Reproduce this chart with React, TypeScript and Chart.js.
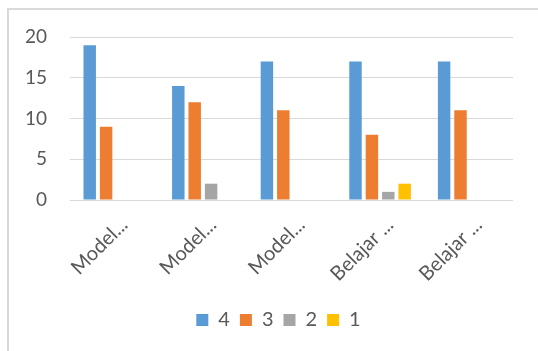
import React, { useEffect, useRef } from "react";
import { Chart, registerables } from "chart.js";

Chart.register(...registerables);

const categories = ["Model...", "Model...", "Model...", "Belajar ...", "Belajar ..."];
const seriesNames = ["4", "3", "2", "1"];
const series4 = [19, 14, 17, 17, 17];
const series3 = [9, 12, 11, 8, 11];
const series2 = [0, 2, 0, 1, 0];
const series1 = [0, 0, 0, 2, 0];
const colors = ["#5B9BD5", "#ED7D31", "#A5A5A5", "#FFC000"];
const yTicks = [0, 5, 10, 15, 20];

export default function App() {
  const ref = useRef<HTMLCanvasElement | null>(null);

  useEffect(() => {
    if (!ref.current) return;
    const values = [series4, series3, series2, series1];
    const family = "Lato, 'Open Sans', sans-serif";
    const shiftLegend = {
      id: "shiftLegend",
      afterUpdate(chart: any) {
        if (chart.legend) {
          chart.legend.left = 44;
          if (chart.legend.adjustHitBoxes) chart.legend.adjustHitBoxes();
        }
      },
    };
    const chart = new Chart(ref.current, {
      type: "bar",
      data: {
        labels: categories,
        datasets: seriesNames.map((name, i) => ({
          label: name,
          data: values[i],
          backgroundColor: colors[i],
          borderWidth: 0,
          categoryPercentage: 0.74,
          barPercentage: 0.76,
        })),
      },
      plugins: [shiftLegend],
      options: {
        animation: false,
        responsive: false,
        layout: { padding: { top: 37, right: 25, bottom: 11, left: 0 } },
        plugins: {
          tooltip: { enabled: false },
          legend: {
            position: "bottom",
            labels: {
              font: { family, size: 20 },
              color: "#595959",
              boxWidth: 12,
              boxHeight: 12,
              padding: 10,
            },
          },
        },
        scales: {
          x: {
            grid: { display: false },
            border: { display: false },
            ticks: {
              font: { family, size: 20 },
              color: "#595959",
              minRotation: 45,
              maxRotation: 45,
              padding: 5,
              labelOffset: 10,
              autoSkip: false,
            },
            afterFit: (scale: any) => {
              scale.height = 100;
            },
          },
          y: {
            min: 0,
            max: 20,
            afterBuildTicks: (scale: any) => {
              scale.ticks = yTicks.map((v) => ({ value: v }));
            },
            grid: { color: "#d9d9d9", lineWidth: 1, drawTicks: false },
            border: { display: false },
            ticks: { font: { family, size: 19 }, color: "#595959", padding: 23 },
            afterFit: (scale: any) => {
              scale.width = 70;
            },
          },
        },
      },
    });
    return () => chart.destroy();
  }, []);

  return (
    <div>
      <div
        style={{
          position: "absolute",
          left: 7,
          top: 8,
          width: 531,
          height: 343,
          boxSizing: "border-box",
          borderTop: "2px solid #d9d9d9",
          borderLeft: "2px solid #d9d9d9",
        }}
      />
      <canvas
        ref={ref}
        width={538}
        height={351}
        style={{ position: "absolute", left: 0, top: 0, width: 538, height: 351 }}
      />
    </div>
  );
}
